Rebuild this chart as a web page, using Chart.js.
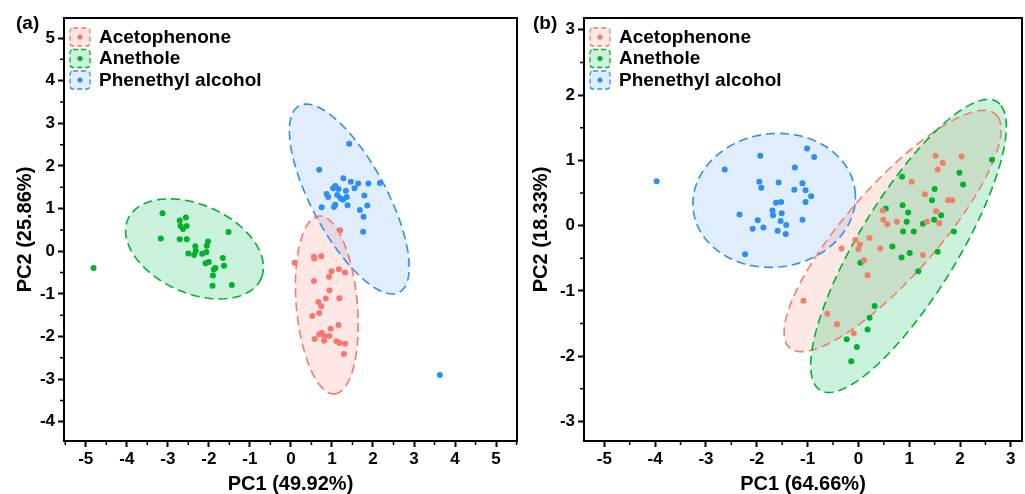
<!DOCTYPE html>
<html>
<head>
<meta charset="utf-8">
<script src="https://cdn.jsdelivr.net/npm/chart.js@4.4.1/dist/chart.umd.min.js"></script>
<style>
  body { margin: 0; background: #fff; width: 1025px; height: 494px; overflow: hidden; position: relative; font-family: "Liberation Sans", Arial, sans-serif; }
  .panel { position: absolute; top: 0; }
  .tag { position: absolute; font-weight: bold; font-size: 19px; color: #000; }
</style>
</head>
<body>
<div class="panel" style="left:0"><canvas id="chartA" width="520" height="494"></canvas></div>
<div class="panel" style="left:520px"><canvas id="chartB" width="505" height="494"></canvas></div>
<div class="tag" style="left:16px; top:12px">(a)</div>
<div class="tag" style="left:533px; top:12px">(b)</div>
<script>
// grupos
const grupos = ['Acetophenone', 'Anethole', 'Phenethyl alcohol'];

// (a) puntos PCA
const aAcetoPC1 = [1.20, 0.09, 0.56, 0.57, 0.74, 0.56, 0.99, 1.17, 1.32, 0.93, 0.94, 0.67, 0.74, 0.85, 1.18, 0.52, 0.69, 1.16, 0.97, 0.69, 0.75, 0.82, 0.94, 0.58, 0.81, 1.11, 1.18, 1.32, 1.29];
const aAcetoPC2 = [0.49, -0.27, -0.13, -0.17, -0.12, -0.70, -0.47, -0.42, -0.50, -0.60, -0.92, -1.19, -1.29, -1.11, -1.10, -1.52, -1.45, -1.73, -1.82, -1.95, -1.91, -1.99, -1.99, -2.06, -2.10, -2.11, -2.15, -2.17, -2.41];
const aAnetPC1 = [-4.81, -3.13, -3.17, -2.71, -2.56, -2.69, -2.54, -2.63, -2.71, -2.54, -1.52, -2.33, -2.02, -2.05, -2.32, -2.50, -2.36, -2.16, -2.06, -1.66, -2.08, -2.00, -1.63, -1.84, -1.88, -1.90, -1.91, -1.44];
const aAnetPC2 = [-0.39, 0.89, 0.30, 0.72, 0.79, 0.59, 0.59, 0.52, 0.28, 0.28, 0.45, 0.12, 0.23, 0.13, 0.01, -0.05, -0.09, -0.06, -0.02, -0.16, -0.28, -0.25, -0.34, -0.39, -0.43, -0.57, -0.81, -0.79];
const aPhenePC1 = [1.42, 0.69, 1.28, 1.46, 1.64, 1.89, 2.17, 1.08, 1.03, 1.16, 1.34, 1.55, 0.87, 0.91, 1.13, 1.21, 1.27, 1.36, 1.79, 1.08, 1.05, 1.38, 0.75, 1.86, 1.68, 1.77, 1.76, 3.63];
const aPhenePC2 = [2.52, 1.91, 1.71, 1.63, 1.59, 1.59, 1.60, 1.53, 1.48, 1.46, 1.42, 1.48, 1.34, 1.27, 1.32, 1.24, 1.21, 1.27, 1.31, 1.09, 1.04, 1.08, 1.03, 1.07, 0.97, 0.81, 0.46, -2.90];

// (b) puntos PCA
const bAcetoPC1 = [1.52, 2.03, 1.66, 1.56, 1.05, 1.31, 1.77, 1.85, 1.53, 0.48, 0.49, 0.57, 0.76, 1.35, 1.59, 0.22, -0.06, 0.03, 0.00, -0.33, 0.43, 1.27, 0.11, 0.18, -1.08, -0.61, -0.42, -0.09];
const bAcetoPC2 = [1.07, 1.06, 0.96, 0.86, 0.67, 0.48, 0.39, 0.39, 0.22, 0.23, 0.09, 0.02, 0.06, 0.06, 0.04, -0.19, -0.22, -0.29, -0.36, -0.35, -0.35, -0.45, -0.53, -0.76, -1.15, -1.35, -1.51, -1.65];
const bAnetPC1 = [0.86, 1.99, 2.06, 1.50, 1.45, 0.87, 0.54, 0.98, 1.63, 1.49, 0.95, 1.27, 0.88, 1.09, 1.88, 0.67, 1.01, 1.56, 2.63, 0.85, 0.04, 1.18, 0.32, 0.22, 0.18, -0.23, -0.03, -0.14];
const bAnetPC2 = [0.75, 0.81, 0.63, 0.56, 0.39, 0.31, 0.26, 0.20, 0.16, 0.09, 0.06, 0.03, -0.09, -0.09, -0.09, -0.32, -0.42, -0.40, 1.01, -0.49, -0.57, -0.70, -1.23, -1.41, -1.59, -1.74, -1.86, -2.08];
const bPhenePC1 = [-1.01, -0.87, -1.93, -2.63, -1.25, -1.95, -1.91, -1.57, -1.10, -1.26, -1.04, -0.93, -1.04, -1.62, -1.52, -1.69, -1.68, -1.51, -2.34, -1.98, -1.53, -1.42, -1.10, -1.87, -2.08, -1.59, -1.43, -2.23, -3.97];
const bPhenePC2 = [1.18, 1.05, 1.07, 0.86, 0.89, 0.67, 0.58, 0.66, 0.65, 0.55, 0.54, 0.45, 0.36, 0.35, 0.36, 0.23, 0.16, 0.19, 0.17, 0.08, 0.07, 0.01, 0.09, -0.03, -0.05, -0.08, -0.13, -0.44, 0.68];

// elipses de confianza: centro, semiejes, angulo (grados)
const aElipCx = [0.875, -2.35, 1.423];
const aElipCy = [-1.259, 0.055, 1.225];
const aElipA = [2.095, 1.765, 2.504];
const aElipB = [0.743, 1.04, 0.905];
const aElipAng = [-84.7, -22.4, -60.6];

const bElipCx = [0.673, 0.987, -1.657];
const bElipCy = [-0.083, -0.312, 0.386];
const bElipA = [2.712, 2.82, 1.601];
const bElipB = [0.789, 0.89, 1.024];
const bElipAng = [40.1, 50.37, 3.1];

const FUENTE = '"Liberation Sans", Arial, sans-serif';

function puntos(xs, ys) {
    return xs.map((x, i) => ({ x: x, y: ys[i] }));
}

// dibuja elipses, marco, ticks menores y leyenda
const pluginPCA = {
    id: 'pca',
    beforeDatasetsDraw(chart, args, opts) {
        const { ctx, scales: { x, y } } = chart;
        const orden = opts.orden;
        const camino = (i) => {
            const th = opts.ang[i] * Math.PI / 180;
            ctx.beginPath();
            for (let k = 0; k <= 120; k++) {
                const t = k / 120 * Math.PI * 2;
                const dx = opts.a[i] * Math.cos(t) * Math.cos(th) - opts.b[i] * Math.sin(t) * Math.sin(th);
                const dy = opts.a[i] * Math.cos(t) * Math.sin(th) + opts.b[i] * Math.sin(t) * Math.cos(th);
                const px = x.getPixelForValue(opts.cx[i] + dx);
                const py = y.getPixelForValue(opts.cy[i] + dy);
                if (k === 0) ctx.moveTo(px, py); else ctx.lineTo(px, py);
            }
            ctx.closePath();
        };
        ctx.save();
        ctx.beginPath();
        ctx.rect(chart.chartArea.left, chart.chartArea.top, chart.chartArea.width, chart.chartArea.height);
        ctx.clip();
        orden.forEach(i => {
            camino(i);
            ctx.fillStyle = opts.rellenos[i];
            ctx.fill();
        });
        orden.forEach(i => {
            camino(i);
            ctx.setLineDash([9, 5]);
            ctx.lineWidth = 1.6;
            ctx.strokeStyle = opts.lineas[i];
            ctx.stroke();
        });
        ctx.restore();
    },
    afterDraw(chart, args, opts) {
        const { ctx, chartArea: ca, scales: { x, y } } = chart;
        ctx.save();
        // marco
        ctx.setLineDash([]);
        ctx.strokeStyle = '#000';
        ctx.lineWidth = 2;
        ctx.strokeRect(ca.left, ca.top, ca.width, ca.height);
        // ticks menores (cada 0.5)
        ctx.lineWidth = 1.5;
        ctx.beginPath();
        for (let v = Math.ceil(x.min * 2) / 2; v <= x.max; v += 0.5) {
            if (Math.abs(v - Math.round(v)) < 0.01) continue;
            const px = x.getPixelForValue(v);
            ctx.moveTo(px, ca.bottom); ctx.lineTo(px, ca.bottom + 4);
        }
        for (let v = Math.ceil(y.min * 2) / 2; v <= y.max; v += 0.5) {
            if (Math.abs(v - Math.round(v)) < 0.01) continue;
            const py = y.getPixelForValue(v);
            ctx.moveTo(ca.left, py); ctx.lineTo(ca.left - 4, py);
        }
        ctx.stroke();
        // leyenda
        ctx.font = 'bold 19px ' + FUENTE;
        ctx.textBaseline = 'middle';
        grupos.forEach((g, i) => {
            const bx = ca.left + 6, by = ca.top + 10 + i * 21.5;
            ctx.beginPath();
            ctx.roundRect(bx, by, 20, 18, 3);
            ctx.fillStyle = opts.rellenos[i];
            ctx.fill();
            ctx.setLineDash([5, 3]);
            ctx.lineWidth = 1.3;
            ctx.strokeStyle = opts.lineas[i];
            ctx.stroke();
            ctx.setLineDash([]);
            ctx.beginPath();
            ctx.arc(bx + 10, by + 9, 2.6, 0, Math.PI * 2);
            ctx.fillStyle = opts.colores[i];
            ctx.fill();
            ctx.fillStyle = '#000';
            ctx.fillText(g, ca.left + 35, by + 9.5);
        });
        ctx.restore();
    }
};

function crearPanel(id, conf) {
    const series = [
        puntos(conf.xs[0], conf.ys[0]),
        puntos(conf.xs[1], conf.ys[1]),
        puntos(conf.xs[2], conf.ys[2])
    ];
    return new Chart(document.getElementById(id), {
        type: 'scatter',
        data: {
            datasets: series.map((d, i) => ({
                label: grupos[i],
                data: d,
                backgroundColor: conf.colores[i],
                borderWidth: 0,
                pointRadius: 3,
                pointHoverRadius: 3
            }))
        },
        options: {
            responsive: false,
            animation: false,
            events: [],
            layout: { padding: { top: 18, right: conf.padDer, left: 0, bottom: 0 } },
            plugins: {
                legend: { display: false },
                tooltip: { enabled: false },
                pca: {
                    cx: conf.elip.cx, cy: conf.elip.cy, a: conf.elip.a, b: conf.elip.b, ang: conf.elip.ang,
                    orden: conf.orden,
                    rellenos: conf.rellenos, lineas: conf.lineas, colores: conf.colores
                }
            },
            scales: {
                x: {
                    type: 'linear',
                    min: conf.xMin, max: conf.xMax,
                    afterFit: (s) => { s.height = 53; },
                    border: { display: false },
                    grid: { drawOnChartArea: false, drawTicks: true, tickLength: 6, tickWidth: 2, tickColor: '#000' },
                    ticks: { stepSize: 1, includeBounds: false, color: '#000', padding: 2, maxRotation: 0,
                             font: { family: FUENTE, size: 17, weight: 'bold' } },
                    title: { display: true, text: conf.tituloX, color: '#000',
                             font: { family: FUENTE, size: 20, weight: 'bold', lineHeight: 1 },
                             padding: { top: 0, bottom: 0 } }
                },
                y: {
                    type: 'linear',
                    min: conf.yMin, max: conf.yMax,
                    afterFit: (s) => { s.width = 64; },
                    border: { display: false },
                    grid: { drawOnChartArea: false, drawTicks: true, tickLength: 6, tickWidth: 2, tickColor: '#000' },
                    ticks: { stepSize: 1, includeBounds: false, color: '#000', padding: 3,
                             font: { family: FUENTE, size: 17, weight: 'bold' } },
                    title: { display: true, text: conf.tituloY, color: '#000',
                             font: { family: FUENTE, size: 20, weight: 'bold', lineHeight: 1 },
                             padding: { top: conf.padTitY, bottom: 0 } }
                }
            }
        },
        plugins: [pluginPCA]
    });
}

crearPanel('chartA', {
    xs: [aAcetoPC1, aAnetPC1, aPhenePC1],
    ys: [aAcetoPC2, aAnetPC2, aPhenePC2],
    elip: { cx: aElipCx, cy: aElipCy, a: aElipA, b: aElipB, ang: aElipAng },
    orden: [2, 0, 1],
    colores: ['#F8766D', '#00B22D', '#2D8FF2'],
    rellenos: ['rgba(250,120,105,0.18)', 'rgba(0,190,90,0.21)', 'rgba(60,140,240,0.16)'],
    lineas: ['#F8766D', '#00B22D', '#2D8FF2'],
    xMin: -5.53, xMax: 5.51, yMin: -4.45, yMax: 5.47,
    padDer: 2, padTitY: 15,
    tituloX: 'PC1 (49.92%)', tituloY: 'PC2 (25.86%)'
});

crearPanel('chartB', {
    xs: [bAcetoPC1, bAnetPC1, bPhenePC1],
    ys: [bAcetoPC2, bAnetPC2, bPhenePC2],
    elip: { cx: bElipCx, cy: bElipCy, a: bElipA, b: bElipB, ang: bElipAng },
    orden: [2, 0, 1],
    colores: ['#F0806A', '#00B22D', '#2D8FF2'],
    rellenos: ['rgba(245,125,100,0.18)', 'rgba(0,190,90,0.21)', 'rgba(60,140,240,0.16)'],
    lineas: ['#F0806A', '#00B22D', '#2D8FF2'],
    xMin: -5.4, xMax: 3.22, yMin: -3.3, yMax: 3.18,
    padDer: 1, padTitY: 11,
    tituloX: 'PC1 (64.66%)', tituloY: 'PC2 (18.33%)'
});
</script>
</body>
</html>
